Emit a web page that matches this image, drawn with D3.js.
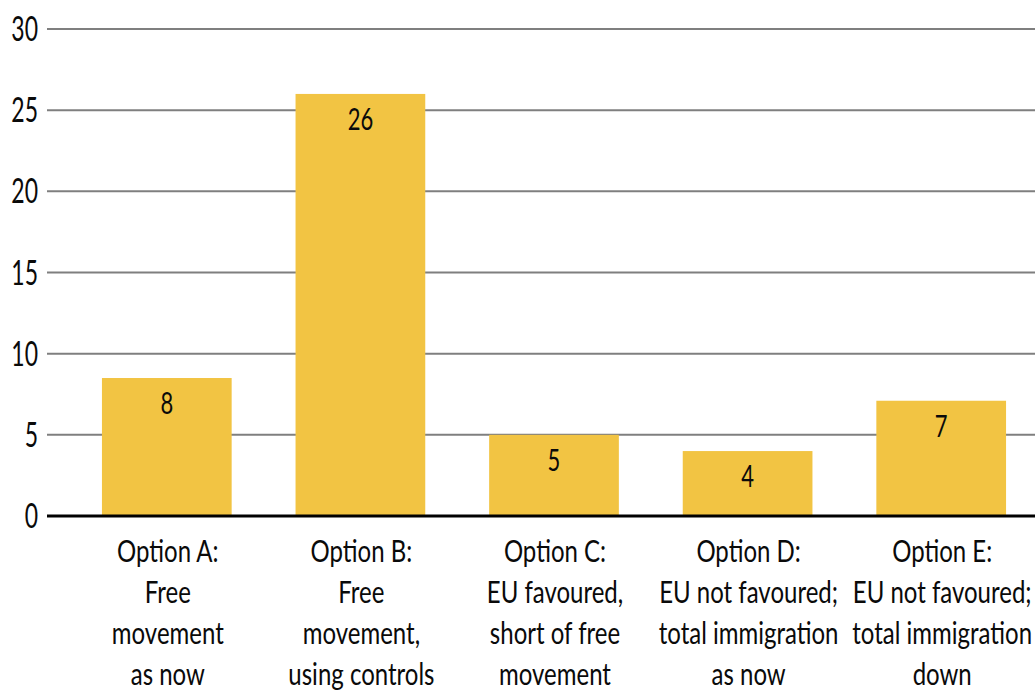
<!DOCTYPE html>
<html><head><meta charset="utf-8">
<script src="https://cdn.jsdelivr.net/npm/d3@7"></script>
<style>
html,body{margin:0;padding:0;background:#fff;overflow:hidden}
text{font-family:Lato,"Open Sans",sans-serif;fill:#0a0a0a}
</style></head>
<body><svg id="c" width="1035" height="693"></svg>
<script>
const categories = ["A","B","C","D","E"];
const categoryLines = [
  ["Option A:","Free","movement","as now"],
  ["Option B:","Free","movement,","using controls"],
  ["Option C:","EU favoured,","short of free","movement"],
  ["Option D:","EU not favoured;","total immigration","as now"],
  ["Option E:","EU not favoured;","total immigration","down"]
];
const values = [8.5, 26, 5, 4, 7.1];
const valueLabels = ["8","26","5","4","7"];
const yTicks = [0,5,10,15,20,25,30];

const svg = d3.select("#c");
const x = d3.scaleBand().domain(categories).range([70,1038]).paddingInner(0.33).paddingOuter(0.165);
const y = d3.scaleLinear().domain([0,30]).range([516,29]);

// gridlines
svg.append("g").selectAll("line").data(yTicks.filter(d=>d>0)).join("line")
  .attr("x1",47).attr("x2",1035).attr("y1",d=>y(d)).attr("y2",d=>y(d))
  .attr("stroke","#7f7f7f").attr("stroke-width",2);

// tick labels
svg.append("g").selectAll("text").data(yTicks).join("text")
  .attr("text-anchor","end").attr("font-size",23)
  .attr("transform",d=>`translate(38,${y(d)+12}) scale(1,1.5)`)
  .text(d=>d);

// bars
svg.append("g").selectAll("rect").data(values).join("rect")
  .attr("x",(d,i)=>x(categories[i])).attr("width",x.bandwidth())
  .attr("y",d=>y(d)).attr("height",d=>y(0)-y(d))
  .attr("fill","#F2C443");

// value labels
svg.append("g").selectAll("text").data(values).join("text")
  .attr("text-anchor","middle").attr("font-size",22)
  .attr("transform",(d,i)=>`translate(${x(categories[i])+x.bandwidth()/2},${y(d)+36}) scale(1,1.38)`)
  .text((d,i)=>valueLabels[i]);

// zero line
svg.append("line").attr("x1",47).attr("x2",1035).attr("y1",y(0)).attr("y2",y(0))
  .attr("stroke","#000").attr("stroke-width",3);

// category labels
categoryLines.forEach((lines,i)=>{
  const cx = x(categories[i])+x.bandwidth()/2 + 1;
  svg.append("g").selectAll("text").data(lines).join("text")
    .attr("text-anchor","middle").attr("font-size",24)
    .attr("transform",(d,j)=>`translate(${cx},${562+j*41}) scale(1,1.27)`)
    .text(d=>d);
});
</script></body></html>
